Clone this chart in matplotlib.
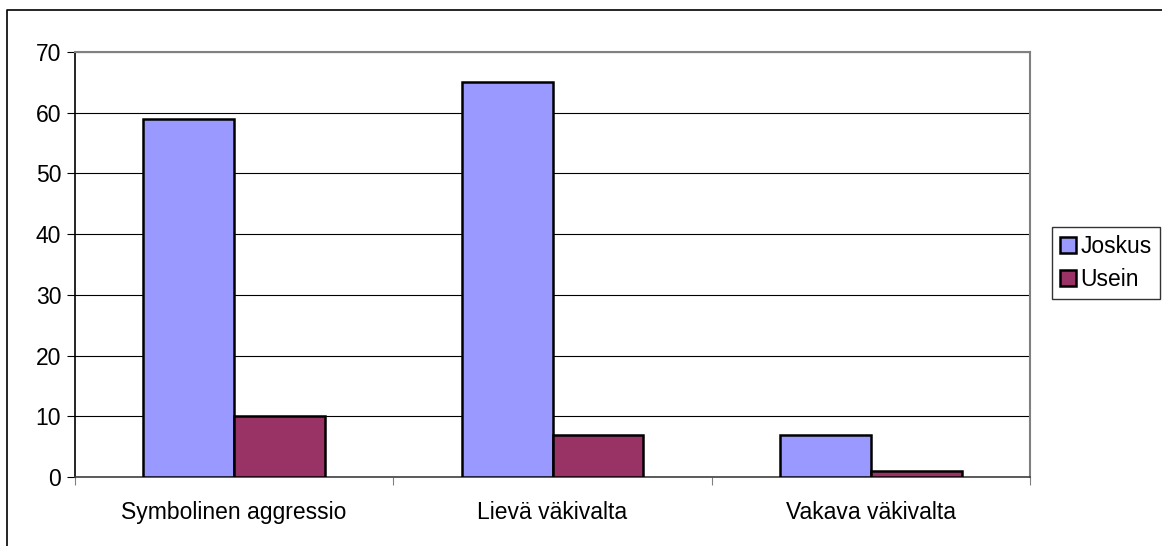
import numpy as np
import matplotlib.pyplot as plt
from matplotlib.lines import Line2D

categories = ["Symbolinen aggressio", "Lievä väkivalta", "Vakava väkivalta"]
joskus = [59, 65, 7]
usein = [10, 7, 1]
series_names = ["Joskus", "Usein"]
y_ticks = [0, 10, 20, 30, 40, 50, 60, 70]

plt.rcParams['font.family'] = ['Liberation Sans', 'DejaVu Sans']

W, H = 1162, 546
fig = plt.figure(figsize=(W / 100, H / 100), dpi=100)
# outer chart border (only top and left edges fall inside the image)
fig.lines.append(Line2D([7 / W, 7 / W, 1.0], [0.0, (H - 10) / H, (H - 10) / H],
                        transform=fig.transFigure, color='black', linewidth=1.2))

ax = fig.add_axes([75 / W, (H - 477) / H, (1030 - 75) / W, (477 - 52) / H])

x = np.arange(len(categories))
bw = 1 / 3.5
ax.bar(x - bw / 2, joskus, bw, color='#9999FF', edgecolor='black', linewidth=1.8, label=series_names[0], zorder=3)
ax.bar(x + bw / 2, usein, bw, color='#993366', edgecolor='black', linewidth=1.8, label=series_names[1], zorder=3)

ax.set_xlim(-0.5, len(categories) - 0.5)
ax.set_ylim(0, 70)
ax.set_yticks(y_ticks)
ax.yaxis.grid(True, color='black', linewidth=0.8, zorder=0)

# category labels centred, tick marks at the boundaries
ax.set_xticks(np.arange(-0.5, len(categories) + 0.5, 1))
ax.set_xticklabels([])
ax.set_xticks(x, minor=True)
ax.set_xticklabels(categories, minor=True)
ax.tick_params(axis='x', which='minor', length=0, pad=17, labelsize=16.5)
ax.tick_params(axis='x', which='major', length=6, color='#808080', direction='out')
ax.tick_params(axis='y', length=6, labelsize=16.5, direction='out', pad=4)

for s in ['top', 'right']:
    ax.spines[s].set_color('#808080')
    ax.spines[s].set_linewidth(1.5)
ax.spines['left'].set_color('black')
ax.spines['bottom'].set_color('#404040')
ax.spines['left'].set_linewidth(1.2)
ax.spines['bottom'].set_linewidth(1.2)

leg = ax.legend(loc='center left', bbox_to_anchor=(1052 / W, (H - 263) / H), bbox_transform=fig.transFigure,
                frameon=True, fancybox=False, edgecolor='black', fontsize=16.5,
                handlelength=0.7, handleheight=0.7, handletextpad=0.2, borderpad=0.35,
                labelspacing=0.45, borderaxespad=0)
leg.get_frame().set_linewidth(1.0)

fig.savefig('out.png', dpi=100)
